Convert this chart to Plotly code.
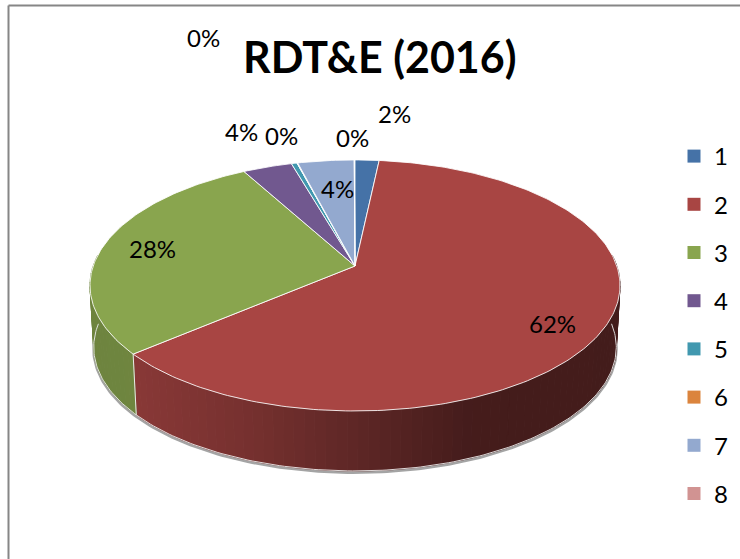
import numpy as np
import plotly.graph_objects as go

# ---- data ----
categories = ["1", "2", "3", "4", "5", "6", "7", "8"]
shares = [1.7, 62.1, 28.2, 3.5, 0.4, 0.05, 4.0, 0.05]
colors = ["#4572A7", "#A84543", "#89A54E", "#71588F", "#4198AF", "#DB843D", "#93A9CF", "#D19392"]
title_text = "RDT&E (2016)"
# data-label centres in page pixels, one per category
label_x = [394, 552, 152, 241, 281, 203, 337, 352]
label_y = [113, 323, 248, 131, 135, 37, 188, 137]

# ---- tilted-disc projection (page pixels) ----
CX, CY, A, C, K = 355.0, 266.0, 261.8, 122.5, 0.155
DEPTH_Y, DEPTH_SCALE = 328.0, 0.986


def top(theta):
    w = 1 + K * np.cos(theta)
    return CX + A * np.sin(theta) / w, CY - C * np.cos(theta) / w


def bottom(theta):
    x, y = top(theta)
    return CX + DEPTH_SCALE * (x - CX), DEPTH_Y + DEPTH_SCALE * (y - CY)


def shade(hex_color, x):
    f = np.interp(x, [90, 137, 250, 370, 470, 620], [0.80, 0.81, 0.70, 0.54, 0.41, 0.40])
    rgb = [int(hex_color[i:i + 2], 16) for i in (1, 3, 5)]
    return "rgb({},{},{})".format(*[int(round(v * f)) for v in rgb])


total = sum(shares)
edges = 2 * np.pi * np.cumsum([0] + shares) / total
fig = go.Figure()

# soft shadow under the wall
arc = np.radians(np.linspace(88, 272, 200))
bx, by = bottom(arc)
fig.add_trace(go.Scatter(x=bx, y=by + 1.5, mode="lines", showlegend=False, hoverinfo="skip",
                         line=dict(color="rgba(90,90,90,0.55)", width=3)))

# side wall strips with a horizontal gradient
for i, col in enumerate(colors):
    lo, hi = max(edges[i], np.radians(85)), min(edges[i + 1], np.radians(275))
    if hi <= lo:
        continue
    n = max(1, int(np.degrees(hi - lo) / 2))
    steps = np.linspace(lo, hi, n + 1)
    for a, b in zip(steps[:-1], steps[1:]):
        t = np.array([a, b])
        xt, yt = top(t)
        xb, yb = bottom(t)
        c = shade(col, xt.mean())
        fig.add_trace(go.Scatter(x=[xt[0], xt[1], xb[1], xb[0], xt[0]],
                                 y=[yt[0], yt[1], yb[1], yb[0], yt[0]],
                                 mode="lines", fill="toself", fillcolor=c,
                                 line=dict(color=c, width=1), showlegend=False, hoverinfo="skip"))

# light rim along the wall's lower edge and slice boundaries on the wall
fig.add_trace(go.Scatter(x=bx, y=by, mode="lines", showlegend=False, hoverinfo="skip",
                         line=dict(color="rgba(235,235,235,0.9)", width=1)))
for e in edges[1:-1]:
    if np.radians(95) < e < np.radians(265):
        xt, yt = top(e)
        xb, yb = bottom(e)
        fig.add_trace(go.Scatter(x=[xt, xb], y=[yt, yb], mode="lines", showlegend=False, hoverinfo="skip",
                                 line=dict(color="rgba(240,240,240,0.95)", width=1)))

# top face slices
for i, col in enumerate(colors):
    t = np.linspace(edges[i], edges[i + 1], max(2, int(np.degrees(edges[i + 1] - edges[i])) + 2))
    xs, ys = top(t)
    fig.add_trace(go.Scatter(x=np.r_[CX, xs, CX], y=np.r_[CY, ys, CY], mode="lines", fill="toself",
                             fillcolor=col, line=dict(color="rgba(255,255,255,0.85)", width=1),
                             showlegend=False, name=categories[i], hoverinfo="name"))

# legend entries
for i, col in enumerate(colors):
    fig.add_trace(go.Scatter(x=[None], y=[None], mode="markers", name=categories[i], legendgroup=categories[i],
                             marker=dict(symbol="square", size=13, color=col)))

# data labels
for i in range(len(categories)):
    fig.add_annotation(x=label_x[i], y=label_y[i], text=f"{round(shares[i])}%", showarrow=False,
                       font=dict(size=24, color="black", family="Lato"))

fig.add_annotation(x=380, y=56, text=f"<b>{title_text}</b>", showarrow=False,
                   font=dict(size=43, color="black", family="Lato"))

# chart frame
frame = dict(color="#868686", width=2)
fig.add_shape(type="line", x0=8.5, x1=8.5, y0=5.5, y1=559, line=frame, layer="below")
fig.add_shape(type="line", x0=8.5, x1=740, y0=5.5, y1=5.5, line=frame, layer="below")

fig.update_layout(
    width=740, height=559, autosize=False,
    margin=dict(l=0, r=0, t=0, b=0),
    paper_bgcolor="white", plot_bgcolor="white",
    xaxis=dict(range=[0, 740], visible=False, fixedrange=True),
    yaxis=dict(range=[559, 0], visible=False, fixedrange=True),
    font=dict(family="Lato", size=24, color="black"),
    legend=dict(x=686 / 740, xref="paper", xanchor="left", y=1 - 134 / 559, yanchor="top", tracegroupgap=14,
                itemwidth=30, indentation=-12, bgcolor="rgba(0,0,0,0)"),
)
fig.write_html("out.html", config={"displayModeBar": False},
               post_script="document.body.style.margin='0';document.body.style.overflow='hidden';")
